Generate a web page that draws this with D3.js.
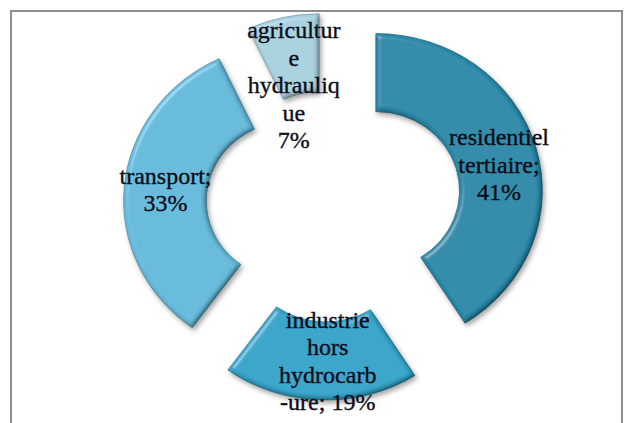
<!DOCTYPE html>
<html>
<head>
<meta charset="utf-8">
<script src="https://cdn.jsdelivr.net/npm/d3@7"></script>
<style>
  html, body { margin: 0; padding: 0; background: #fff; }
  svg { display: block; }
</style>
</head>
<body>
<svg id="chart" width="628" height="423"></svg>
<script>
'use strict';

// data, clockwise from 12 o'clock
const categories = ["residentiel tertiaire", "industrie hors hydrocarbure", "transport", "agriculture hydraulique"];
const shares = [41, 19, 33, 7];
// label text as it is wrapped in the picture
const wrappedNames = [
    ["residentiel", "tertiaire;"],
    ["industrie", "hors", "hydrocarb", "-ure;"],
    ["transport;"],
    ["agricultur", "e", "hydrauliq", "ue"]
];
const percentOnLastLine = [false, true, false, false];

// styling
const colors = ["#2a89a9", "#36a4c9", "#66bada", "#a8d0de"];
const explode = [48, 39, 35, 34];
const labelNudge = [[3, 7], [6, 0], [0, 0], [2, 0]];

const width = 628, height = 423;
const cx = 327, cy = 204;
const outerR = 157, innerR = 79;
const stretchX = 1.06;
const fontSize = 24, lineHeight = 27.5, plotTop = 22;

let svg = d3.select("#chart");

// bevel + shadow filter, roughly like the office "soft round" effect
let defs = svg.append("defs");
let f = defs.append("filter").attr("id", "bevel")
    .attr("x", "-15%").attr("y", "-15%").attr("width", "135%").attr("height", "135%");
f.append("feGaussianBlur").attr("in", "SourceAlpha").attr("stdDeviation", 2.5).attr("result", "blur");
// darker rim on the side away from the light
let diff = f.append("feDiffuseLighting").attr("in", "blur")
    .attr("surfaceScale", 3).attr("diffuseConstant", 1.155)
    .attr("lighting-color", "#ffffff").attr("result", "diff");
diff.append("feDistantLight").attr("azimuth", 225).attr("elevation", 60);
f.append("feComposite").attr("in", "SourceGraphic").attr("in2", "diff")
    .attr("operator", "arithmetic").attr("k1", 1).attr("k2", 0).attr("k3", 0).attr("k4", 0).attr("result", "shaded");
// light rim on the top left
let spec = f.append("feSpecularLighting").attr("in", "blur")
    .attr("surfaceScale", 4).attr("specularConstant", 0.6).attr("specularExponent", 30)
    .attr("lighting-color", "#ffffff").attr("result", "spec");
spec.append("feDistantLight").attr("azimuth", 225).attr("elevation", 40);
f.append("feComposite").attr("in", "spec").attr("in2", "SourceAlpha").attr("operator", "in").attr("result", "specIn");
f.append("feComposite").attr("in", "shaded").attr("in2", "specIn")
    .attr("operator", "arithmetic").attr("k1", 0).attr("k2", 1).attr("k3", 0.4).attr("k4", 0).attr("result", "lit");
f.append("feOffset").attr("in", "SourceAlpha").attr("dx", 2).attr("dy", 3).attr("result", "off");
f.append("feGaussianBlur").attr("in", "off").attr("stdDeviation", 2.5).attr("result", "offBlur");
f.append("feFlood").attr("flood-color", "#000").attr("flood-opacity", 0.35).attr("result", "col");
f.append("feComposite").attr("in", "col").attr("in2", "offBlur").attr("operator", "in").attr("result", "shadow");
let merge = f.append("feMerge");
merge.append("feMergeNode").attr("in", "shadow");
merge.append("feMergeNode").attr("in", "lit");

// chart frame
svg.append("rect")
    .attr("x", 11).attr("y", 11)
    .attr("width", 611).attr("height", 440)
    .attr("fill", "#fff")
    .attr("stroke", "#8e8e8e")
    .attr("stroke-width", 2);

let pieData = d3.pie().sort(null).value(d => d)(shares);
let arc = d3.arc().innerRadius(innerR).outerRadius(outerR);

pieData.forEach((p, i) => {
    let mid = (p.startAngle + p.endAngle) / 2;
    p.ox = cx + Math.sin(mid) * explode[i] * stretchX;
    p.oy = cy - Math.cos(mid) * explode[i];
});

let slices = svg.append("g").selectAll("g.slice")
    .data(pieData)
    .join("g")
    .attr("class", "slice")
    .attr("transform", d => `translate(${d.ox},${d.oy}) scale(${stretchX},1)`);

slices.append("path")
    .attr("d", arc)
    .attr("fill", (d, i) => colors[i])
    .attr("stroke", (d, i) => d3.color(colors[i]).darker(0.7))
    .attr("stroke-width", 0.8)
    .attr("filter", "url(#bevel)");

// data labels at the slice centroid, pushed inside the plot area when needed
let labels = svg.append("g")
    .attr("font-family", "'Liberation Serif', 'Times New Roman', serif")
    .attr("font-size", fontSize)
    .attr("fill", "#0c0c18")
    .attr("stroke", "#0c0c18")
    .attr("stroke-width", 0.35)
    .attr("text-anchor", "middle");

pieData.forEach((p, i) => {
    let lines = wrappedNames[i].slice();
    let pct = shares[i] + "%";
    if (percentOnLastLine[i]) lines[lines.length - 1] += " " + pct;
    else lines.push(pct);

    let c = arc.centroid(p);
    let lx = p.ox + c[0] * stretchX + labelNudge[i][0];
    let ly = p.oy + c[1] + labelNudge[i][1];
    let first = ly - (lines.length - 1) * lineHeight / 2 + fontSize * 0.33;
    first = Math.max(first, plotTop + fontSize * 0.67);

    let t = labels.append("text").attr("x", lx).attr("y", first);
    lines.forEach((s, k) => {
        t.append("tspan").attr("x", lx).attr("y", first + k * lineHeight).text(s);
    });
});
</script>
</body>
</html>
